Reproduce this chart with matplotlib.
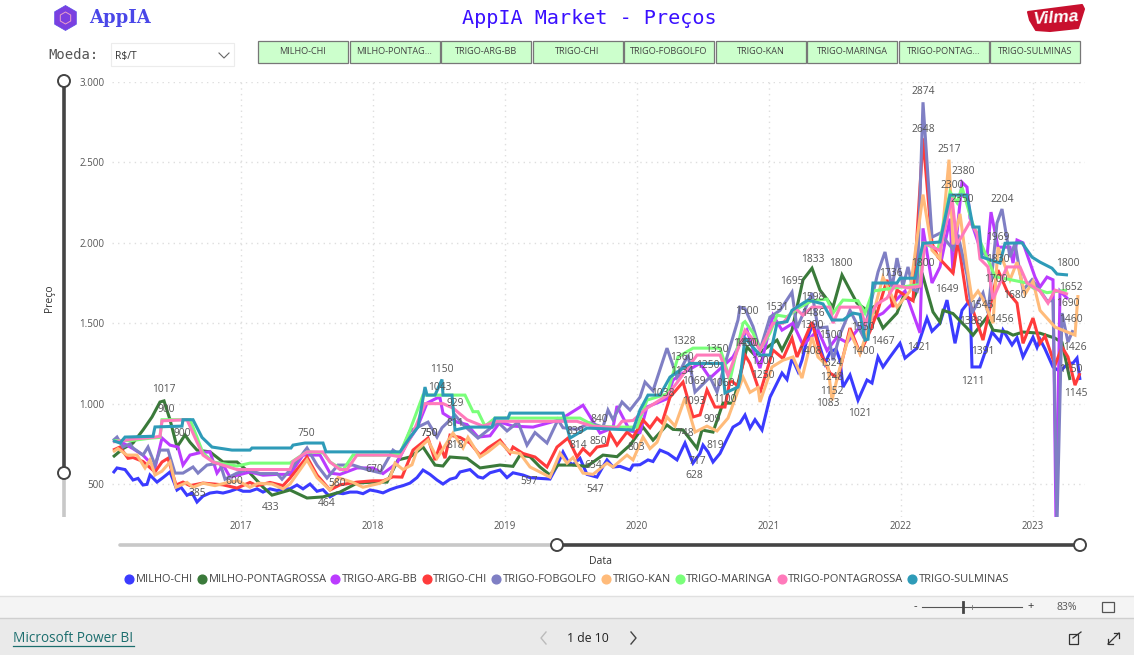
import matplotlib
matplotlib.use("Agg")
import matplotlib.pyplot as plt
from matplotlib.lines import Line2D
from matplotlib.patches import Rectangle, Circle, RegularPolygon, Polygon
from matplotlib.ticker import FuncFormatter

plt.rcParams['font.family'] = ['Open Sans', 'DejaVu Sans']

SERIES_NAMES = ["MILHO-CHI", "MILHO-PONTAGROSSA", "TRIGO-ARG-BB", "TRIGO-CHI", "TRIGO-FOBGOLFO",
                "TRIGO-KAN", "TRIGO-MARINGA", "TRIGO-PONTAGROSSA", "TRIGO-SULMINAS"]
BUTTON_LABELS = ["MILHO-CHI", "MILHO-PONTAG...", "TRIGO-ARG-BB", "TRIGO-CHI", "TRIGO-FOBGOLFO",
                 "TRIGO-KAN", "TRIGO-MARINGA", "TRIGO-PONTAG...", "TRIGO-SULMINAS"]
COLORS = ["#3B3BFF", "#3A7A3A", "#BB3BFF", "#FF3B3B", "#7F7FC4", "#FFBB7A", "#7AFF7A", "#FF7ABB", "#2E9BB8"]

# Each series: (time, price). Time runs in steps of 1/132 year from TIME_ORIGIN.
TIME_ORIGIN = 2015.174
STEPS_PER_YEAR = 132
MILHO_CHI = [(113,568),(117,600),(125,590),(133,525),(138,535),(143,494),(147,498),(150,556),(157,512),(163,540),
 (170,575),(177,463),(181,480),(187,430),(192,445),(197,388),(203,425),(210,444),(217,450),(223,444),(230,455),
 (237,470),(243,455),(250,455),(257,470),(263,450),(270,470),(277,460),(284,470),(290,470),(297,494),(303,470),
 (310,500),(317,455),(323,465),(330,420),(337,445),(343,440),(350,450),(357,450),(363,440),(370,463),(377,455),
 (383,445),(390,465),(397,480),(403,490),(410,506),(417,540),(423,587),(430,560),(437,525),(443,500),(450,530),
 (456,540),(460,575),(470,590),(478,545),(483,537),(490,570),(500,587),(507,540),(513,570),(523,556),(530,540),
 (540,535),(550,531),(556,600),(563,699),(568,640),(573,620),(580,660),(587,560),(597,543),(604,620),(607,650),
 (613,606),(620,610),(630,587),(633,618),(640,620),(648,650),(653,640),(660,711),(668,690),(677,650),(685,755),
 (693,630),(700,690),(703,742),(708,700),(713,637),(720,690),(727,780),(733,854),(740,880),(745,929),(750,848),
 (755,900),(762,836),(770,1040),(782,1190),(787,1150),(792,1283),(798,1200),(802,1270),(807,1400),(813,1500),
 (820,1352),(825,1250),(830,1320),(836,1340),(840,1270),(843,1103),(850,1178),(858,1021),(867,1147),(872,1128),
 (878,1290),(883,1228),(890,1290),(900,1375),(905,1283),(912,1320),(917,1345),(927,1532),(932,1450),(940,1500),
 (947,1644),(955,1375),(962,1580),(970,1644),(972,1228),(980,1228),(992,1445),(1000,1385),(1003,1457),(1012,1365),
 (1017,1410),(1023,1290),(1033,1413),(1037,1350),(1040,1400),(1045,1340),(1053,1228),(1060,1200),(1068,1250),
 (1073,1252),(1077,1283),(1080,1147)]
MILHO_PONTA = [(113,668),(123,720),(133,755),(143,836),(152,917),(160,1010),(164,1017),(170,900),(177,730),(185,805),
 (190,760),(197,711),(210,700),(223,637),(237,637),(250,568),(263,481),(272,431),(290,463),(307,413),(323,420),
 (340,450),(357,506),(373,512),(387,512),(398,650),(410,668),(423,730),(435,618),(443,612),(450,668),(467,660),
 (480,600),(500,618),(513,610),(520,680),(530,670),(540,606),(550,556),(558,618),(573,618),(587,610),(603,680),
 (617,670),(630,742),(643,854),(653,773),(667,867),(673,840),(683,836),(697,723),(702,836),(713,823),(723,1003),
 (733,1003),(747,1352),(755,1300),(765,1340),(777,1395),(782,1333),(792,1457),(803,1770),(812,1842),(820,1706),
 (833,1600),(842,1800),(850,1706),(857,1625),(867,1580),(873,1600),(883,1470),(897,1563),(903,1660),(913,1644),
 (923,1790),(933,1570),(940,1507),(943,1580),(953,1560),(967,1470),(973,1426),(987,1538),(993,1457),(1007,1445),
 (1013,1426),(1023,1445),(1040,1438),(1055,1407),(1062,1380),(1070,1147)]
TRIGO_ARG = [(113,773),(123,755),(133,720),(143,680),(155,600),(162,786),(170,742),(178,730),(183,618),(190,680),
 (200,695),(210,700),(217,568),(223,620),(230,543),(250,575),(263,555),(277,560),(290,560),(303,680),(320,680),
 (330,568),(340,560),(357,600),(373,600),(383,565),(397,630),(407,755),(417,848),(427,1003),(437,1035),(440,1035),
 (443,940),(457,885),(467,870),(478,792),(490,800),(500,885),(513,860),(533,854),(560,900),(583,990),(590,920),
 (600,817),(613,850),(617,985),(630,830),(640,820),(647,979),(667,1030),(673,1147),(683,1190),(700,1250),(710,1159),
 (733,1290),(747,1457),(755,1300),(760,1221),(773,1550),(782,1457),(793,1500),(803,1364),(818,1457),(827,1330),
 (837,1413),(847,1380),(863,1500),(883,1563),(905,1700),(920,1440),(923,2090),(932,1750),(940,1850),(950,2150),
 (953,1812),(962,2377),(967,2346),(970,2154),(980,1967),(987,1911),(991,2191),(998,1973),(1010,1973),(1013,1874),
 (1017,2017),(1023,2000),(1035,1787),(1040,1725),(1047,1787),(1053,1770),(1056,250),(1060,1700),(1068,1650)]
TRIGO_CHI = [(113,711),(120,730),(128,660),(133,665),(143,640),(155,575),(162,637),(168,660),(176,494),(183,512),
 (190,490),(203,506),(223,495),(237,475),(250,510),(257,490),(270,510),(283,490),(290,537),(307,668),(317,556),
 (330,463),(340,495),(357,512),(373,520),(383,520),(393,545),(402,543),(413,711),(428,786),(435,649),(440,742),
 (445,661),(450,804),(460,790),(470,755),(480,680),(488,724),(500,773),(510,692),(513,730),(523,690),(535,668),
 (547,606),(557,730),(568,786),(577,668),(583,720),(590,680),(597,730),(607,742),(610,817),(617,742),(627,823),
 (633,790),(643,898),(650,850),(657,910),(662,880),(670,1040),(683,1134),(693,917),(700,930),(707,1085),(715,979),
 (725,979),(730,1147),(738,1110),(745,1302),(750,1250),(760,1066),(773,1333),(783,1280),(792,1407),(797,1290),
 (812,1507),(820,1320),(830,1190),(838,1160),(850,1470),(860,1314),(870,1450),(877,1563),(887,1770),(893,1600),
 (897,1706),(913,1640),(923,2650),(932,1997),(938,1911),(953,1812),(958,2017),(967,1644),(973,1580),(983,1395),
 (998,1830),(1007,1700),(1017,1625),(1023,1375),(1033,1532),(1040,1375),(1045,1420),(1055,1240),(1062,1352),
 (1068,1290),(1075,1115),(1080,1190)]
TRIGO_FOB = [(113,770),(117,792),(123,730),(130,750),(133,724),(143,680),(148,730),(155,618),(160,711),(168,711),
 (175,568),(183,568),(193,606),(198,568),(207,618),(220,630),(225,530),(237,568),(247,590),(260,565),(277,565),
 (282,530),(293,610),(307,724),(317,618),(327,537),(338,618),(353,618),(367,590),(380,570),(393,711),(400,680),
 (410,830),(428,885),(437,792),(442,850),(455,929),(463,870),(478,786),(498,885),(507,830),(518,885),(527,742),
 (535,820),(547,755),(558,900),(563,850),(577,840),(590,880),(603,854),(608,960),(613,900),(622,1010),(630,960),
 (640,1040),(645,1134),(653,1080),(667,1345),(677,1165),(688,1302),(695,1072),(710,1165),(717,1072),(727,1290),
 (738,1520),(740,1600),(745,1590),(753,1480),(760,1333),(770,1538),(780,1580),(792,1693),(797,1470),(812,1688),
 (818,1470),(827,1476),(833,1270),(840,1430),(850,1580),(863,1420),(878,1818),(885,1943),(892,1720),(897,1905),
 (903,1730),(908,1850),(913,1710),(917,1700),(923,2874),(932,2035),(940,2060),(953,1960),(958,2050),(967,1800),
 (972,1563),(983,1688),(988,1563),(997,2123),(1002,2210),(1010,1911),(1015,1997),(1023,1706),(1032,1770),(1037,1730),
 (1047,1640),(1053,1640),(1057,250),(1062,1563),(1068,1383),(1073,1457)]
TRIGO_KAN = [(113,700),(118,720),(127,680),(137,680),(145,600),(150,650),(155,556),(162,580),(170,637),(176,480),
 (187,510),(193,480),(203,505),(215,490),(228,510),(238,520),(250,480),(258,505),(272,500),(283,470),(290,500),
 (307,650),(317,540),(330,463),(338,540),(353,510),(363,480),(380,505),(390,540),(395,630),(403,590),(412,620),
 (417,711),(428,773),(437,661),(453,817),(463,724),(468,790),(480,668),(488,700),(500,760),(510,700),(520,690),
 (530,606),(550,543),(560,692),(567,630),(573,665),(583,568),(593,560),(607,630),(613,606),(627,680),(633,650),
 (643,792),(650,720),(657,760),(667,917),(675,860),(685,1035),(695,823),(707,860),(717,830),(728,910),(743,1165),
 (750,1070),(758,1100),(760,1010),(772,1228),(783,1270),(793,1290),(802,1159),(812,1413),(818,1290),(828,1230),
 (832,1021),(838,1180),(850,1445),(860,1310),(875,1600),(883,1787),(897,1600),(910,1700),(923,2300),(932,1954),
 (940,1900),(949,2517),(953,1990),(960,2180),(967,1850),(972,1650),(978,1700),(983,1650),(993,1500),(998,1973),
 (1010,1770),(1017,1880),(1025,1680),(1033,1760),(1040,1580),(1055,1476),(1075,1426),(1078,1675)]
TRIGO_MAR = [(113,770),(131,770),(150,785),(160,790),(162,900),(190,900),(197,790),(203,693),(213,637),(237,612),
 (250,630),(290,630),(297,660),(307,700),(323,695),(330,637),(343,587),(353,680),(390,680),(400,690),(410,836),
 (423,1053),(452,1053),(465,1053),(473,950),(478,950),(485,860),(495,910),(547,910),(580,910),(595,860),(617,854),
 (637,854),(647,1022),(667,1060),(678,1290),(693,1345),(720,1345),(730,1147),(743,1500),(745,1510),(753,1440),
 (760,1333),(770,1440),(777,1550),(787,1540),(800,1600),(812,1640),(827,1650),(833,1563),(843,1644),(858,1640),
 (865,1563),(873,1700),(895,1720),(920,1740),(923,1997),(938,1960),(950,2316),(957,2250),(962,2346),(972,2130),
 (995,1790),(1027,1750),(1033,1720),(1047,1690),(1067,1706)]
TRIGO_PON = [(113,762),(133,780),(153,790),(160,797),(162,893),(187,900),(197,760),(203,680),(213,637),(237,590),
 (290,590),(293,640),(307,700),(323,700),(330,637),(340,590),(347,590),(357,680),(390,680),(400,670),(413,817),
 (425,1000),(443,1000),(453,972),(467,900),(483,860),(497,890),(577,890),(592,860),(617,850),(622,890),(633,895),
 (647,972),(667,1050),(677,1130),(697,1302),(720,1302),(728,1175),(745,1457),(753,1400),(760,1333),(773,1500),
 (783,1500),(795,1594),(803,1550),(812,1600),(830,1600),(833,1500),(840,1600),(860,1600),(865,1500),(877,1620),
 (887,1656),(895,1737),(907,1720),(920,1730),(925,2000),(940,1950),(952,2280),(957,1990),(970,2130),(977,2060),
 (980,1900),(988,1850),(993,1650),(1007,1850),(1020,1850),(1027,1750),(1040,1700),(1048,1625),(1055,1706),(1068,1680)]
TRIGO_SUL = [(113,770),(120,755),(125,792),(153,797),(155,855),(182,860),(183,900),(193,900),(202,790),(212,730),
 (232,711),(250,711),(252,724),(291,724),(293,742),(305,755),(323,755),(326,700),(400,700),(410,790),(418,855),
 (425,1103),(427,1053),(435,1053),(442,1150),(443,1053),(452,1053),(455,836),(468,854),(492,854),(495,910),(508,910),
 (510,941),(563,941),(570,786),(587,848),(633,836),(640,960),(648,1053),(660,1053),(670,1165),(690,1250),(722,1250),
 (725,1066),(738,1103),(740,1150),(745,1407),(760,1302),(770,1302),(777,1500),(787,1510),(792,1580),(808,1644),
 (823,1620),(832,1520),(843,1520),(853,1563),(860,1555),(865,1395),(868,1400),(873,1750),(897,1750),(900,1780),
 (915,1780),(923,1997),(940,2005),(950,2297),(967,2297),(973,2098),(979,2098),(982,1911),(1000,1874),(1005,1997),
 (1022,2000),(1032,1911),(1040,1880),(1052,1842),(1057,1806),(1068,1800)]
SERIES_VALUES = [MILHO_CHI, MILHO_PONTA, TRIGO_ARG, TRIGO_CHI, TRIGO_FOB,
                 TRIGO_KAN, TRIGO_MAR, TRIGO_PON, TRIGO_SUL]
YEAR_TICKS = [2017, 2018, 2019, 2020, 2021, 2022, 2023]
VALUE_TICKS = [500, 1000, 1500, 2000, 2500, 3000]

DATA_LABELS = ["1017","900","900","385","600","433","750","580","464","670","750","1150","1043",
               "929","811","750","818","839","814","840","850","654","547","597","803","1038",
               "1328","1360","1134","1069","1093","1250","1350","1430","1060","1100","909","748",
               "717","819","628","1500","1450","1200","1250","1531","1695","1598","1486","1390",
               "1408","1500","1324","1248","1152","1083","1550","1400","1021","1467","1421","1649",
               "1545","1388","1391","1211","1456","1700","1680","1652","1690","1460","1426","1150",
               "1145","2874","2648","2517","2380","2300","2350","2204","1969","1830","1833","1800",
               "1800","1736","1800"]
# layout of the value labels, in figure pixels
LABEL_PX = [(164,390),(166,410),(182,433),(197,493),(234,481),(271,508),(306,434),(337,483),(327,503),
            (374,470),(429,434),(442,370),(440,387),(455,404),(455,423),(429,433),(455,446),(575,431),
            (578,446),(599,419),(598,441),(593,466),(595,489),(529,481),(636,448),(663,393),(684,341),
            (682,358),(682,372),(694,382),(694,402),(708,365),(717,349),(745,344),(723,383),(725,400),
            (712,419),(685,434),(697,462),(715,446),(694,476),(747,312),(747,343),(763,361),(763,376),
            (777,308),(792,282),(813,297),(813,313),(812,325),(810,351),(831,336),(831,363),(832,377),
            (832,392),(828,403),(863,327),(863,352),(860,413),(883,341),(919,348),(947,289),(982,306),
            (971,321),(983,352),(973,382),(1002,319),(996,280),(1015,296),(1071,288),(1068,304),(1071,319),
            (1075,347),(1071,369),(1076,393),(923,92),(923,129),(949,149),(963,172),(952,185),(962,199),
            (1002,199),(998,238),(998,259),(813,260),(841,264),(923,264),(891,274),(1068,264)]

W, H = 1134, 655
fig = plt.figure(figsize=(W/100, H/100), dpi=100, facecolor="white")

bg = fig.add_axes([0, 0, 1, 1], zorder=0)
bg.set_xlim(0, W); bg.set_ylim(H, 0); bg.axis("off")

L, R, T, B = 112, 1085, 82, 517
ax = fig.add_axes([L/W, 1-B/H, (R-L)/W, (B-T)/H], zorder=1)
ax.patch.set_alpha(0)
for pts, c, n in zip(SERIES_VALUES, COLORS, SERIES_NAMES):
    x = [TIME_ORIGIN + p[0]/STEPS_PER_YEAR for p in pts]
    y = [p[1] for p in pts]
    ax.plot(x, y, color=c, lw=2.2, label=n, solid_joinstyle="miter", solid_capstyle="butt", zorder=3)
ax.set_xlim(TIME_ORIGIN + L/STEPS_PER_YEAR, TIME_ORIGIN + R/STEPS_PER_YEAR)
ax.set_ylim(295, 3000)
ax.set_xticks(YEAR_TICKS)
ax.set_yticks(VALUE_TICKS)
ax.yaxis.set_major_formatter(FuncFormatter(lambda v, _: f"{int(v):,}".replace(",", ".")))
ax.grid(True, color="#dedede", lw=1, ls=(0, (1, 3)))
ax.set_axisbelow(True)
ax.tick_params(length=0, labelsize=7, labelcolor="#555555", pad=3)
ax.tick_params(axis="y", pad=5.5)
for s in ax.spines.values():
    s.set_visible(False)

ov = fig.add_axes([0, 0, 1, 1], zorder=2)
ov.set_xlim(0, W); ov.set_ylim(H, 0); ov.axis("off"); ov.patch.set_alpha(0)
for t, (px, py) in zip(DATA_LABELS, LABEL_PX):
    ov.text(px, py, t, fontsize=7.4, color="#555555", ha="center", va="center")

ov.text(49, 298, "Preço", rotation=90, fontsize=7.5, color="#333333", ha="center", va="center")
ov.text(600, 561, "Data", fontsize=7.5, color="#333333", ha="center", va="center")

ov.plot([64, 64], [473, 517], color="#c8c8c8", lw=2.6, solid_capstyle="butt")
ov.plot([64, 64], [82, 473], color="#444444", lw=2.6, solid_capstyle="butt")
ov.plot([120, 557], [545, 545], color="#c8c8c8", lw=2.6, solid_capstyle="round")
ov.plot([557, 1080], [545, 545], color="#444444", lw=2.6, solid_capstyle="butt")
for cx, cy in [(64, 81), (64, 473), (557, 545), (1080, 545)]:
    ov.add_patch(Circle((cx, cy), 6, fc="white", ec="#444444", lw=1.4, zorder=5))

t = ov.text(589, 18, "AppIA Market - Preços", family="DejaVu Sans Mono", fontsize=14.5,
            color="#3A10FF", ha="center", va="center")
ov.add_patch(RegularPolygon((65.5, 18), 6, radius=12.5, fc="#7B3FE0", ec="#5A4BE8", lw=0.5))
ov.add_patch(RegularPolygon((65.5, 18), 6, radius=6, fc="none", ec="#E8A0C8", lw=0.7))
ov.text(89, 18, "AppIA", family="DejaVu Serif", weight="bold", fontsize=13, color="#4A47E8",
        ha="left", va="center")
ov.add_patch(Polygon([(1028, 12), (1082, 5), (1084, 9), (1078, 28), (1050, 31), (1036, 30), (1030, 20)],
                     closed=True, fc="#C8102E", ec="#C8102E", lw=1.5, joinstyle="round"))
ov.text(1056, 18, "Vilma", style="italic", weight="bold", fontsize=12.5, color="white",
        family="Liberation Sans", ha="center", va="center", rotation=4)

ov.text(48, 55, "Moeda:", family="DejaVu Sans Mono", fontsize=10, color="#555555", ha="left", va="center")
ov.add_patch(Rectangle((111, 43), 123, 23, fc="white", ec="#ececec", lw=0.8))
ov.text(115, 56, "R$/T", fontsize=7.5, color="#333333", ha="left", va="center")
ov.plot([219, 224, 229], [53, 58, 53], color="#666666", lw=0.8)

for i, b in enumerate(BUTTON_LABELS):
    x0 = 258 + i*91.5
    ov.add_patch(Rectangle((x0, 41), 90, 22, fc="#CCFFCC", ec="#777777", lw=0.9))
    ov.text(x0 + 45, 52, b, fontsize=6.6, color="#444444", ha="center", va="center")

handles = [Line2D([], [], ls="none", marker="o", ms=6.3, mfc=c, mec=c, label=n)
           for c, n in zip(COLORS, SERIES_NAMES)]
fig.legend(handles=handles, loc="center left", bbox_to_anchor=(126/W, 1-580/H), ncol=9, frameon=False,
           fontsize=7.95, labelcolor="#444444", handlelength=0.6, handletextpad=0.3,
           columnspacing=0.5, borderpad=0, borderaxespad=0)

bg.add_patch(Rectangle((0, 596), W, 22, fc="#F4F4F4", ec="none"))
bg.add_patch(Rectangle((0, 618), W, 37, fc="#EAEAEA", ec="none"))
bg.plot([0, W], [596, 596], color="#E0E0E0", lw=1)
bg.plot([0, W], [618, 618], color="#CFCFCF", lw=1)
ov.text(915, 607, "-", fontsize=8, color="#333333", ha="center", va="center")
ov.plot([922, 1022], [607, 607], color="#555555", lw=0.8)
ov.plot([963, 963], [602, 612], color="#444444", lw=2)
ov.plot([972, 972], [605, 609], color="#777777", lw=0.6)
ov.text(1031, 606, "+", fontsize=8, color="#333333", ha="center", va="center")
ov.text(1067, 607, "83%", fontsize=7.5, color="#555555", ha="center", va="center")
ov.add_patch(Rectangle((1102, 602), 12, 10, fc="none", ec="#555555", lw=0.9))
ov.text(13, 639, "Microsoft Power BI", fontsize=9.8, color="#1C6E6E", ha="left", va="center")
ov.plot([13, 134], [646, 646], color="#1C6E6E", lw=0.9)
ov.text(588, 638, "1 de 10", fontsize=8.8, color="#222222", ha="center", va="center")
ov.plot([546, 541, 546], [632, 638, 644], color="#BBBBBB", lw=1)
ov.plot([631, 636, 631], [632, 638, 644], color="#444444", lw=1)
ov.add_patch(Rectangle((1069, 634), 9, 10, fc="none", ec="#333333", lw=0.9))
ov.plot([1073, 1081], [638, 632], color="#333333", lw=0.9)
ov.plot([1108, 1119], [644, 633], color="#333333", lw=0.9)
ov.plot([1114, 1119, 1119], [633, 633, 638], color="#333333", lw=0.9)
ov.plot([1108, 1108, 1113], [639, 644, 644], color="#333333", lw=0.9)

fig.savefig("out.png", dpi=100)
